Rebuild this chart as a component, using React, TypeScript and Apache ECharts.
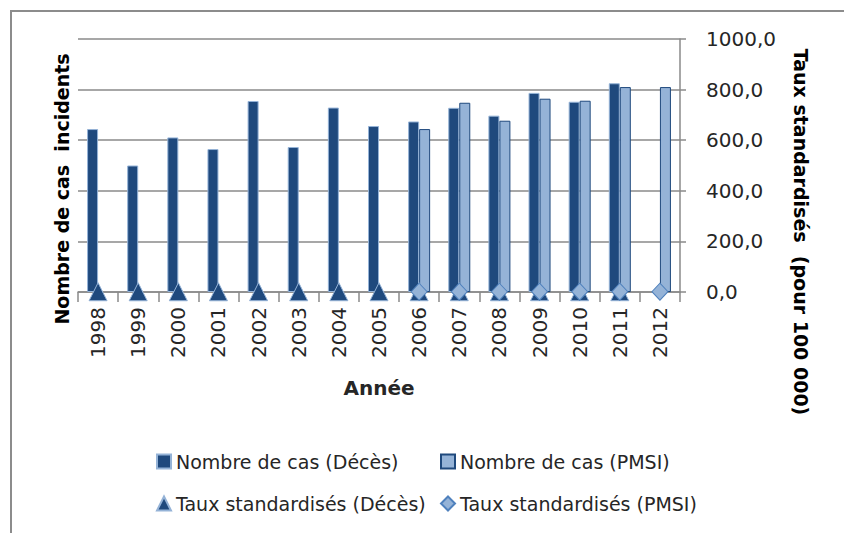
import React, { useEffect, useRef } from "react";
import * as echarts from "echarts";

const years = ["1998", "1999", "2000", "2001", "2002", "2003", "2004", "2005", "2006", "2007", "2008", "2009", "2010", "2011", "2012"];
const casDeces = [644, 500, 611, 565, 755, 573, 729, 656, 674, 728, 697, 787, 752, 825, null];
const casPmsi = [null, null, null, null, null, null, null, null, 644, 748, 677, 764, 756, 810, 810];
const tauxDeces = [1.1, 0.9, 1.0, 0.9, 1.2, 0.9, 1.1, 1.0, 1.0, 1.1, 1.0, 1.2, 1.1, 1.2, null];
const tauxPmsi = [null, null, null, null, null, null, null, null, 1.0, 1.1, 1.0, 1.1, 1.1, 1.2, 1.2];

const FONT = "DejaVu Sans";
const DARK = "#1F497D";
const LIGHT = "#95B3D7";
const GRAY = "#8a8a8a";

export default function App() {
  const ref = useRef<HTMLDivElement>(null);
  useEffect(() => {
    const chart = echarts.init(ref.current!, null, { renderer: "svg" });
    const legendCommon = {
      itemWidth: 14,
      itemHeight: 14,
      itemGap: 0,
      padding: 0,
      selectedMode: false,
      textStyle: { fontFamily: FONT, fontSize: 19, color: "#262626" },
    };
    chart.setOption({
      animation: false,
      backgroundColor: "#ffffff",
      textStyle: { fontFamily: FONT },
      graphic: [
        {
          type: "rect",
          shape: { x: 11, y: 11, width: 900, height: 600 },
          style: { fill: "none", stroke: "#8c8c8c", lineWidth: 2 },
          silent: true,
        },
        {
          type: "text",
          x: 62,
          y: 189,
          rotation: Math.PI / 2,
          silent: true,
          style: {
            text: "Nombre de cas  incidents",
            fontFamily: FONT,
            fontSize: 19,
            fontWeight: "bold",
            fill: "#000",
            align: "center",
            verticalAlign: "middle",
          },
        },
        {
          type: "text",
          x: 801,
          y: 232,
          rotation: -Math.PI / 2,
          silent: true,
          style: {
            text: "Taux standardisés  (pour 100 000)",
            fontFamily: FONT,
            fontSize: 19,
            fontWeight: "bold",
            fill: "#000",
            align: "center",
            verticalAlign: "middle",
          },
        },
      ],
      grid: { left: 78, right: 164, top: 39, bottom: 241, containLabel: false, outerBoundsMode: "none" },
      legend: [
        { ...legendCommon, icon: "rect", data: ["Nombre de cas (Décès)"], left: 156, top: 452 },
        { ...legendCommon, icon: "rect", data: ["Nombre de cas (PMSI)"], left: 440, top: 452 },
        { ...legendCommon, data: ["Taux standardisés (Décès)"], left: 156, top: 494 },
        { ...legendCommon, data: ["Taux standardisés (PMSI)"], left: 440, top: 494 },
      ],
      xAxis: {
        type: "category",
        data: years,
        name: "Année",
        nameLocation: "middle",
        nameGap: 86,
        nameTextStyle: { fontFamily: FONT, fontSize: 20, fontWeight: "bold", color: "#262626" },
        axisLine: { show: true, lineStyle: { color: GRAY, width: 1.5 } },
        axisTick: { show: true, length: 10, interval: 0, lineStyle: { color: GRAY, width: 1.5 } },
        axisLabel: { interval: 0, rotate: 90, margin: 15, fontFamily: FONT, fontSize: 20, color: "#262626" },
      },
      yAxis: [
        {
          type: "value",
          position: "left",
          min: 0,
          max: 1000,
          interval: 200,
          axisLine: { show: false },
          axisTick: { show: false },
          axisLabel: { show: false },
          splitLine: { show: true, lineStyle: { color: GRAY, width: 1.5 } },
        },
        {
          type: "value",
          position: "right",
          min: 0,
          max: 1000,
          interval: 200,
          axisLine: { show: true, lineStyle: { color: GRAY, width: 1.5 } },
          axisTick: { show: true, inside: false, length: 6, lineStyle: { color: GRAY, width: 1.5 } },
          axisLabel: {
            show: true,
            margin: 26,
            fontFamily: FONT,
            fontSize: 20,
            color: "#262626",
            formatter: (v: number) => v.toFixed(1).replace(".", ","),
          },
          splitLine: { show: false },
        },
      ],
      series: [
        {
          name: "Nombre de cas (Décès)",
          type: "bar",
          yAxisIndex: 0,
          data: casDeces,
          barWidth: 11,
          barGap: "0%",
          itemStyle: { color: DARK, borderColor: LIGHT, borderWidth: 1 },
        },
        {
          name: "Nombre de cas (PMSI)",
          type: "bar",
          yAxisIndex: 0,
          data: casPmsi,
          barWidth: 11,
          barGap: "0%",
          itemStyle: { color: LIGHT, borderColor: DARK, borderWidth: 1 },
        },
        {
          name: "Taux standardisés (Décès)",
          type: "scatter",
          yAxisIndex: 1,
          data: tauxDeces,
          symbol: "triangle",
          symbolSize: [18, 18],
          itemStyle: { color: DARK, borderColor: LIGHT, borderWidth: 1, opacity: 1 },
        },
        {
          name: "Taux standardisés (PMSI)",
          type: "scatter",
          yAxisIndex: 1,
          data: tauxPmsi,
          symbol: "diamond",
          symbolSize: [16, 17],
          itemStyle: { color: LIGHT, borderColor: "#4F81BD", borderWidth: 1, opacity: 1 },
        },
      ],
    });
    return () => chart.dispose();
  }, []);
  return (
    <div
      ref={ref}
      style={{ position: "fixed", left: 0, top: 0, width: 844, height: 533, background: "#fff" }}
    />
  );
}
